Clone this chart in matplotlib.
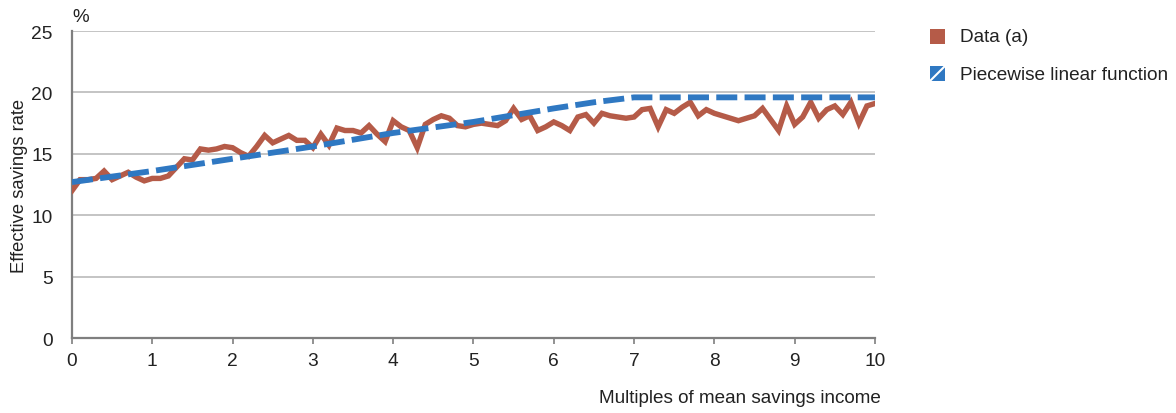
import numpy as np
import matplotlib
matplotlib.use("Agg")
import matplotlib.pyplot as plt
from matplotlib.patches import Rectangle
from matplotlib.lines import Line2D

plt.rcParams['font.family'] = ['Liberation Sans', 'DejaVu Sans']

# Effective savings rate by multiples of mean savings income (steps of 0.1)
income_multiple = np.round(np.arange(0, 10.01, 0.1), 1)
savings_rate = [
    12.0, 12.9, 12.9, 13.0, 13.6, 12.9, 13.2, 13.5, 13.1, 12.8,
    13.0, 13.0, 13.2, 13.9, 14.6, 14.5, 15.4, 15.3, 15.4, 15.6,
    15.5, 15.1, 14.8, 15.6, 16.5, 15.9, 16.2, 16.5, 16.1, 16.1,
    15.5, 16.6, 15.7, 17.1, 16.9, 16.9, 16.7, 17.3, 16.6, 16.0,
    17.7, 17.2, 16.9, 15.5, 17.4, 17.8, 18.1, 17.9, 17.3, 17.2,
    17.4, 17.5, 17.4, 17.3, 17.7, 18.7, 17.8, 18.1, 16.9, 17.2,
    17.6, 17.3, 16.9, 18.0, 18.2, 17.5, 18.3, 18.1, 18.0, 17.9,
    18.0, 18.6, 18.7, 17.2, 18.6, 18.3, 18.8, 19.2, 18.1, 18.6,
    18.3, 18.1, 17.9, 17.7, 17.9, 18.1, 18.7, 17.8, 16.9, 18.9,
    17.4, 18.0, 19.2, 17.9, 18.6, 18.9, 18.2, 19.2, 17.5, 18.9,
    19.1,
]

# Piecewise linear fit: knots and values
knot_x = [0, 1, 2, 3, 4, 5, 6, 6.5, 7, 10]
knot_y = [12.7, 13.6, 14.6, 15.6, 16.7, 17.6, 18.7, 19.2, 19.6, 19.6]

y_ticks = [0, 5, 10, 15, 20, 25]
x_ticks = list(range(0, 11))

RED = '#B55B48'
BLUE = '#2F78C2'
TEXT = '#222222'
SPINE = '#7F7F7F'
GRID = '#C4C4C4'

fig = plt.figure(figsize=(11.76, 4.14), dpi=100)
ax = fig.add_axes([0.0612, 0.181, 0.6828, 0.7416])

ax.plot(income_multiple, savings_rate, color=RED, lw=3.9,
        solid_joinstyle='miter', zorder=3)
ax.plot(knot_x, knot_y, color=BLUE, lw=4.2, dashes=(3.6, 1.25),
        dash_capstyle='butt', zorder=4)

ax.set_xlim(0, 10)
ax.set_ylim(0, 25)
ax.set_xticks(x_ticks)
ax.set_yticks(y_ticks)
ax.yaxis.grid(True, color=GRID, lw=1.4)
ax.set_axisbelow(True)

for side in ('top', 'right'):
    ax.spines[side].set_visible(False)
for side in ('left', 'bottom'):
    ax.spines[side].set_color(SPINE)
    ax.spines[side].set_linewidth(1.6)

ax.tick_params(axis='y', length=0, pad=14, labelsize=13.8, labelcolor=TEXT)
ax.tick_params(axis='x', length=4, width=1.2, color=SPINE, direction='out',
               pad=6, labelsize=13.8, labelcolor=TEXT)

ax.set_ylabel('Effective savings rate', fontsize=13.2, color=TEXT)
ax.yaxis.set_label_coords(-0.055, 0.5)
fig.text(0.749, 0.018, 'Multiples of mean savings income', fontsize=13.6,
         color=TEXT, ha='right', va='bottom')
ax.text(0.0, 1.02, '%', transform=ax.transAxes, fontsize=13.5, color=TEXT,
        ha='left', va='bottom')

# Legend entries
sq_w = 15 / 1176
sq_h = 15 / 414
fig.add_artist(Rectangle((930 / 1176, 1 - 45 / 414), sq_w, sq_h,
                         transform=fig.transFigure, color=RED, lw=0))
fig.text(960 / 1176, 1 - 37 / 414, 'Data (a)', fontsize=13.7, color=TEXT,
         va='center', ha='left')
fig.add_artist(Rectangle((930 / 1176, 1 - 82 / 414), sq_w, sq_h,
                         transform=fig.transFigure, color=BLUE, lw=0))
fig.add_artist(Line2D([930 / 1176, 930 / 1176 + sq_w],
                      [1 - 82 / 414, 1 - 82 / 414 + sq_h],
                      transform=fig.transFigure, color='white', lw=1.5))
fig.text(960 / 1176, 1 - 75 / 414, 'Piecewise linear function', fontsize=13.7,
         color=TEXT, va='center', ha='left')

fig.savefig('out.png', dpi=100)
